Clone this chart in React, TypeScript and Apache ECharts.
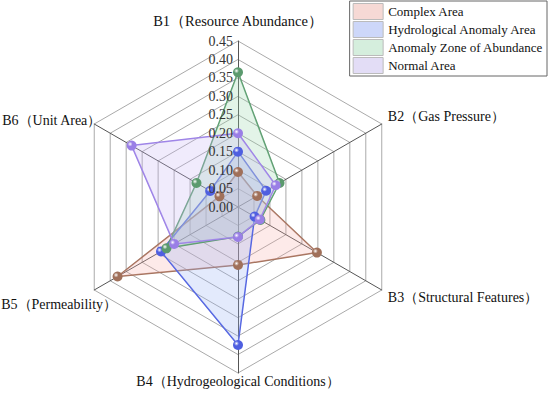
import React, { useEffect, useRef } from "react";
import * as echarts from "echarts";

const indicators = [
  "B1（Resource Abundance）",
  "B2（Gas Pressure）",
  "B3（Structural Features）",
  "B4（Hydrogeological Conditions）",
  "B5（Permeability）",
  "B6（Unit Area）",
];
const seriesNames = [
  "Complex Area",
  "Hydrological Anomaly Area",
  "Anomaly Zone of Abundance",
  "Normal Area",
];
const complexArea = [0.095, 0.06, 0.247, 0.157, 0.377, 0.058];
const hydroArea = [0.15, 0.088, 0.052, 0.374, 0.241, 0.087];
const abundanceZone = [0.365, 0.13, 0.07, 0.08, 0.224, 0.13];
const normalArea = [0.2, 0.118, 0.068, 0.081, 0.2, 0.333];
const axisMax = 0.45;
const axisStep = 0.05;

// ECharts radar places indicators counter-clockwise; reorder so B1..B6 run clockwise
const order = [0, 5, 4, 3, 2, 1];

// per-indicator name nudges
const namePadding = [
  [0, 0, 6, 0],
  [0, 0, 8, 0],
  [8, 0, 0, 0],
  [-6, 0, 0, 0],
  [22, 0, 0, 0],
  [0, 0, 0, 0],
];
const nameBoxWidth = [0, 0, 0, 0, 87, 86];
const nameFontSize = [14.5, 14, 14, 14, 14, 14];

const lineColors = ["#a0705a", "#4f5fe0", "#5b9a6e", "#9a7fe6"];
const fillColors = [
  "rgba(245,170,165,0.35)",
  "rgba(150,175,245,0.38)",
  "rgba(150,215,170,0.38)",
  "rgba(200,180,245,0.38)",
];
const legendColors = ["#f6d9d5", "#cdd7f9", "#d5eedd", "#e3ddf6"];

function sphere(c: string) {
  return new echarts.graphic.RadialGradient(0.35, 0.35, 0.7, [
    { offset: 0, color: "#ffffff" },
    { offset: 0.35, color: c },
    { offset: 1, color: c },
  ]);
}

export default function App() {
  const ref = useRef<HTMLDivElement>(null);
  useEffect(() => {
    const chart = echarts.init(ref.current!, null, { renderer: "svg" });
    const data = [complexArea, hydroArea, abundanceZone, normalArea];
    const rich: any = {};
    indicators.forEach((_, i) => {
      const s: any = {
        padding: namePadding[i],
        fontSize: nameFontSize[i],
        fontFamily: "Liberation Serif",
        color: "#111",
      };
      if (nameBoxWidth[i]) {
        s.width = nameBoxWidth[i];
        s.align = "left";
      }
      rich["s" + i] = s;
    });
    chart.setOption({
      animation: false,
      backgroundColor: "#ffffff",
      legend: {
        orient: "vertical",
        right: 3,
        top: 1,
        padding: [2, 4, 2, 3],
        borderColor: "#666",
        borderWidth: 1,
        itemWidth: 30,
        itemHeight: 16,
        itemGap: 1,
        textStyle: { fontFamily: "Liberation Serif", fontSize: 13, color: "#111" },
        data: seriesNames.map((n, i) => ({
          name: n,
          icon: "rect",
          itemStyle: { color: legendColors[i], borderColor: "#bbb", borderWidth: 1 },
        })),
      },
      radar: {
        center: [238, 207],
        radius: 166,
        startAngle: 90,
        shape: "polygon",
        splitNumber: 9,
        nameGap: 7,
        axisName: {
          color: "#111",
          fontFamily: "Liberation Serif",
          fontSize: 14,
          formatter: (name: string) => `{s${indicators.indexOf(name)}|${name}}`,
          rich,
        },
        indicator: order.map((k) => ({ name: indicators[k], min: 0, max: axisMax })),
        axisLine: { lineStyle: { color: "#555", width: 1 } },
        splitLine: { lineStyle: { color: "#aaa", width: 1 } },
        splitArea: { show: false },
      },
      polar: { center: [238, 207], radius: 166 },
      angleAxis: { show: false, startAngle: 90, min: 0, max: 360 },
      radiusAxis: {
        min: 0,
        max: axisMax,
        interval: axisStep,
        axisLine: { show: false },
        axisTick: { show: false },
        splitLine: { show: false },
        axisLabel: {
          formatter: (v: number) => v.toFixed(2),
          color: "#333",
          fontFamily: "Liberation Serif",
          fontSize: 14,
          margin: 5,
        },
        z: 10,
      },
      series: data.map((d, i) => ({
        type: "radar",
        name: seriesNames[i],
        symbol: "circle",
        symbolSize: 10,
        data: [{ value: order.map((k) => d[k]), name: seriesNames[i] }],
        lineStyle: { color: lineColors[i], width: 1.5 },
        itemStyle: { color: sphere(lineColors[i]), borderWidth: 0 },
        areaStyle: { color: fillColors[i] },
      })),
    });
    return () => chart.dispose();
  }, []);
  return (
    <div
      ref={ref}
      style={{ position: "fixed", left: 0, top: 0, width: 550, height: 393 }}
    />
  );
}
